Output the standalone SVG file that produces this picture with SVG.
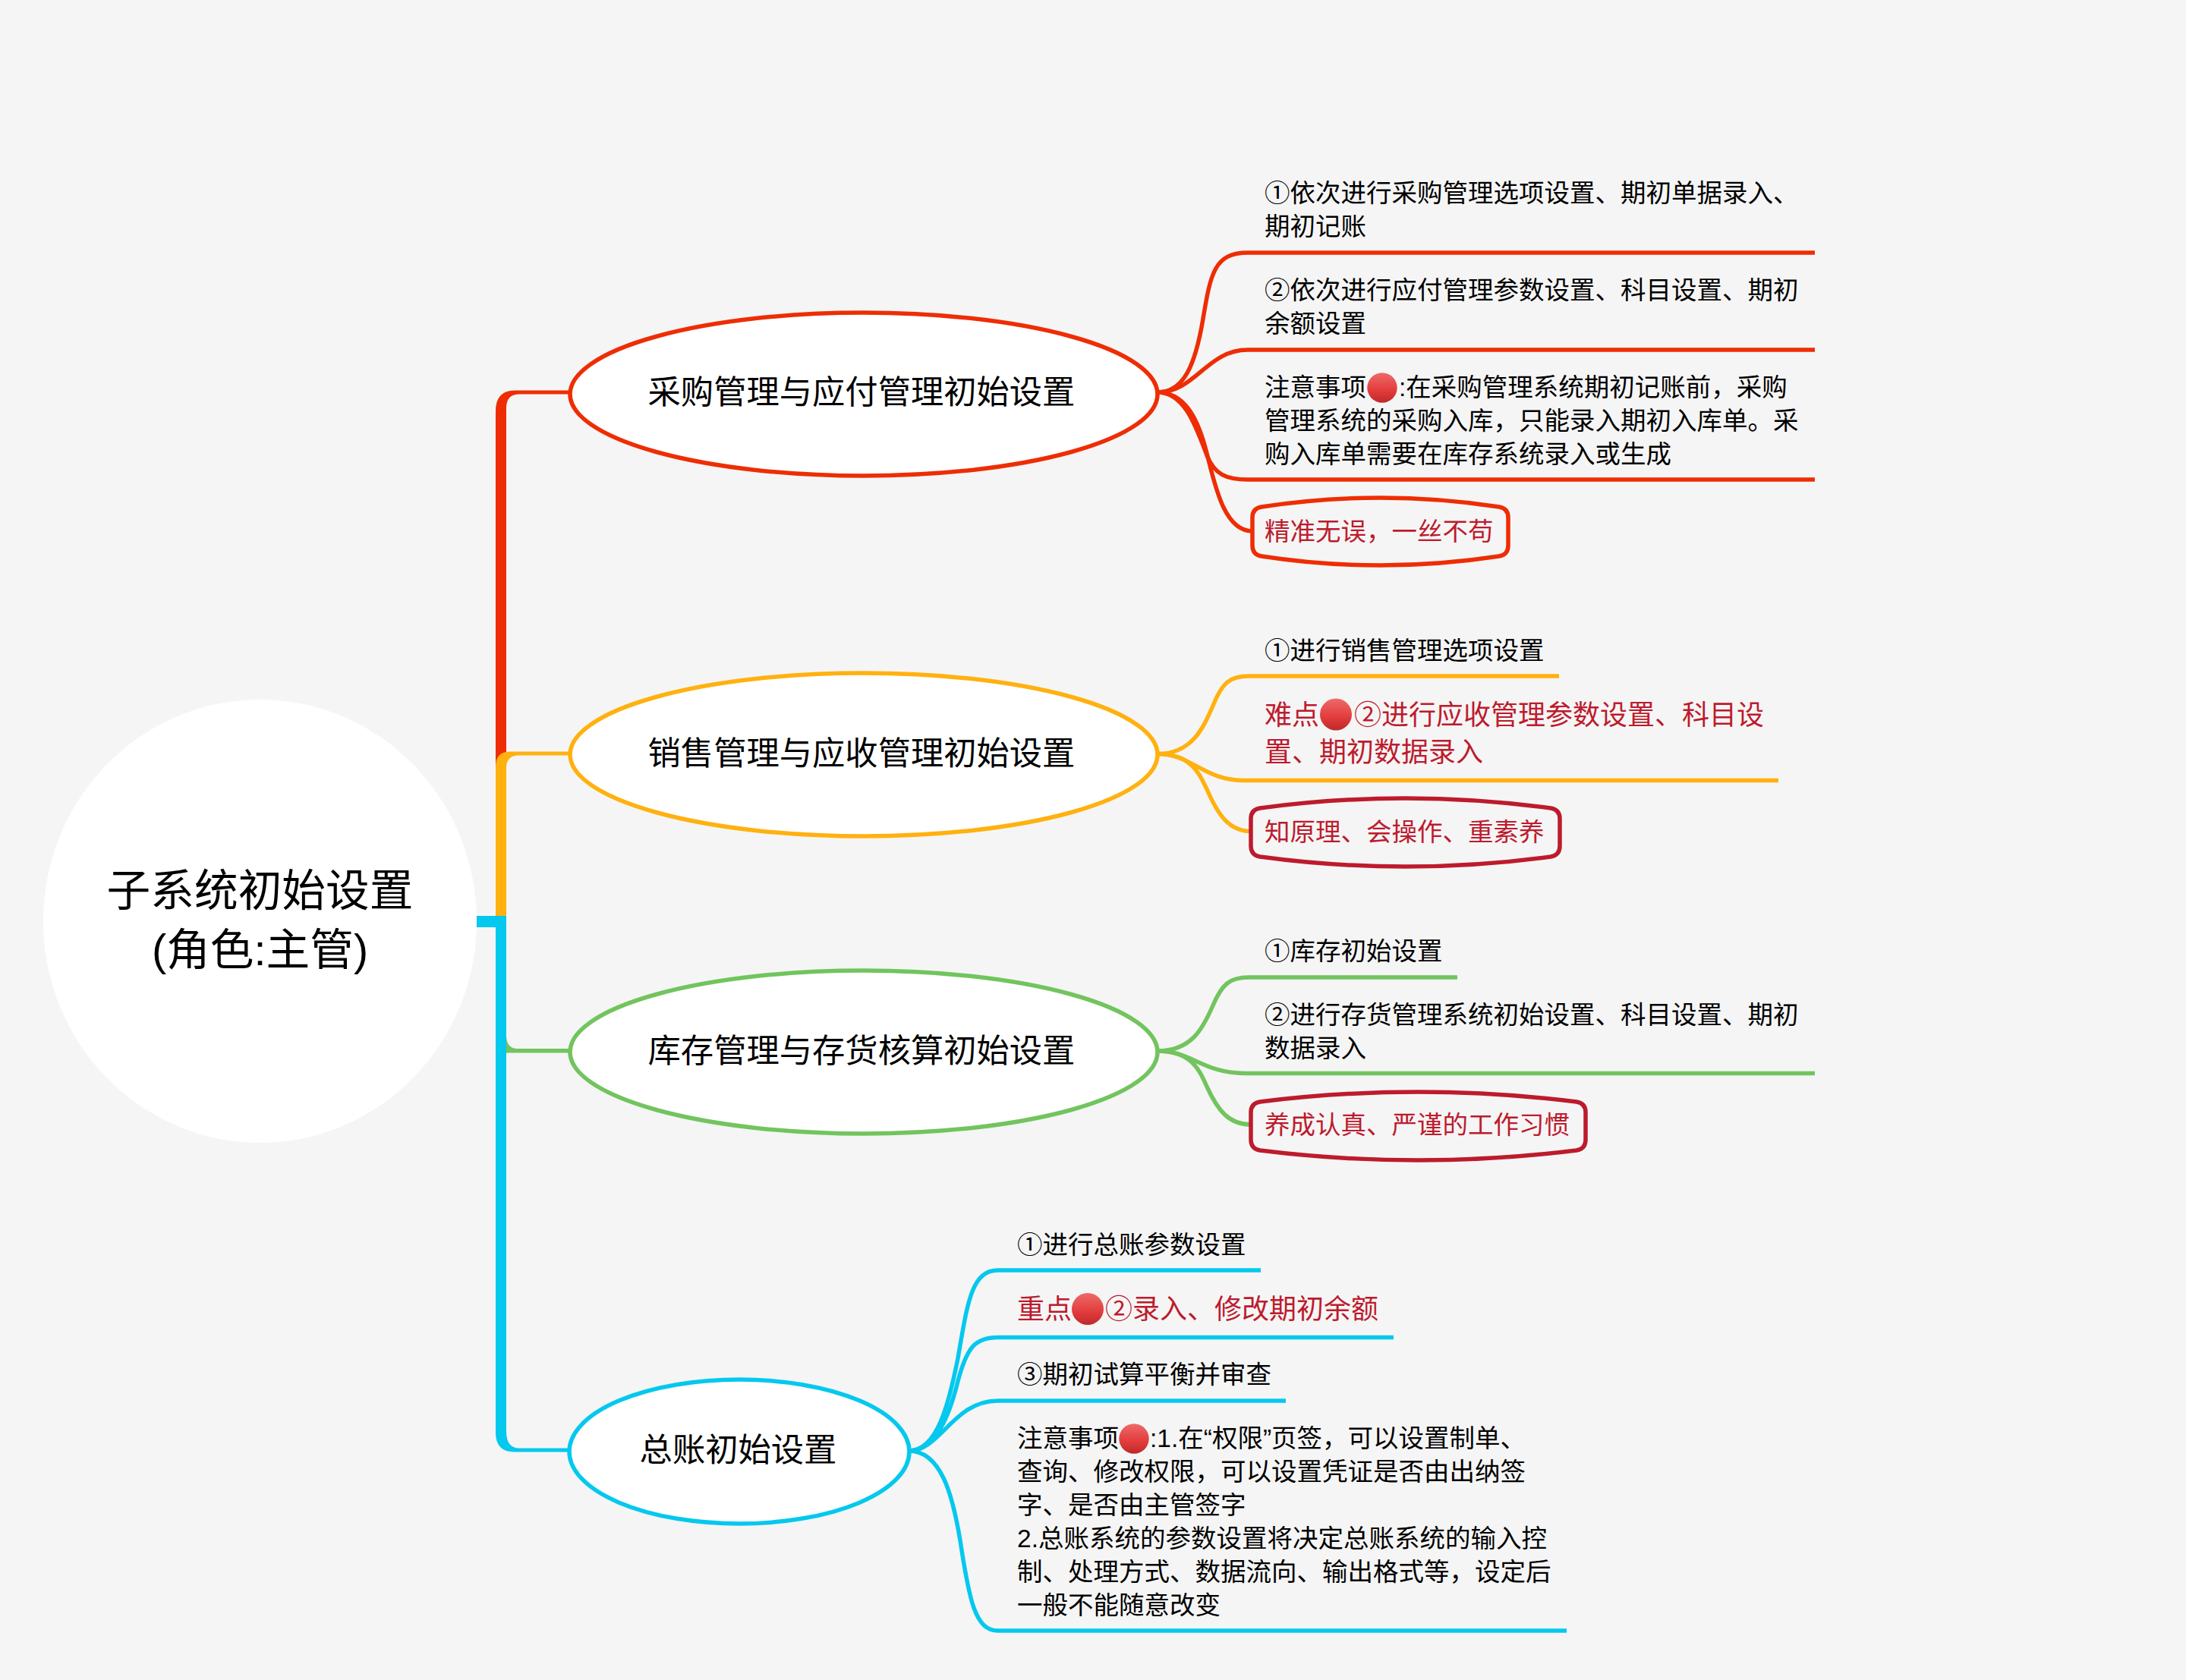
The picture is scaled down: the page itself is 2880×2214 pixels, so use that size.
<svg xmlns="http://www.w3.org/2000/svg" width="2880" height="2214" viewBox="0 0 2880 2214">
<defs>
<linearGradient id="dot" x1="0" y1="0" x2="0" y2="1"><stop offset="0" stop-color="#EE6A6A"/><stop offset="0.6" stop-color="#E23B3B"/><stop offset="1" stop-color="#BE2A2A"/></linearGradient>
</defs>
<style>
text{font-family:"Liberation Sans","Noto Sans CJK SC",sans-serif;fill:#000}
.c{font-size:57.7px;text-anchor:middle}
.m{font-size:43.3px;text-anchor:middle}
.t{font-size:33.5px}
.r{font-size:36px;fill:#BD1B2D}
.b{font-size:33.5px;fill:#BD1B2D}
.e{fill:#fff;stroke-width:5.5}
.box{fill:none;stroke-width:5.5}
.l{fill:none;stroke-width:5.5}
.dot{fill:url(#dot)}
.red{stroke:#EE2D04}.ora{stroke:#FFB110}.gre{stroke:#72C45E}.blu{stroke:#05C8EE}.dr{stroke:#BD1B2D}
</style>
<rect width="2880" height="2214" fill="#F5F5F5"/>
<g id="connectors">
<path fill="#EE2D04" d="M751,514.500H678Q653,514.500 653,542V1010H667V538Q667,519.500 684,519.500H751Z"/>
<path fill="#FFB110" d="M751,990.500H672Q653,990.500 653,1010V1207H667V1012Q667,995.500 684,995.500H751Z"/>
<path fill="#72C45E" d="M751,1382H682Q668,1382 667,1366V1387.500H751Z"/>
<path fill="#05C8EE" d="M628,1207H667V1886Q667,1908.500 684,1908.500H751V1913.500H678Q653,1913.500 653,1888V1222H628Z"/>
<g class="l red">
<path d="M1525,517C1560,517 1575,480 1585,420C1595,360 1600,333 1644,333H2391"/>
<path d="M1525,517C1575,517 1590,461 1644,461H2391"/>
<path d="M1525,517C1560,517 1575,560 1590,600C1600,625 1615,632 1644,632H2391"/>
<path d="M1525,517C1560,517 1577,550 1588,590C1599,630 1610,700 1650,700"/>
</g>
<g class="l ora">
<path d="M1525,993.500C1570,993.500 1585,960 1598,930C1610,900 1620,891 1645,891H2054"/>
<path d="M1525,993.500C1570,993.500 1585,1028.500 1640,1028.500H2343"/>
<path d="M1525,993.500C1570,993.500 1580,1020 1590,1040C1605,1075 1620,1095.500 1648,1095.500"/>
</g>
<g class="l gre">
<path d="M1525,1385C1570,1385 1585,1355 1598,1325C1610,1297 1620,1288 1645,1288H1920"/>
<path d="M1525,1385C1570,1385 1585,1414.500 1640,1414.500H2391"/>
<path d="M1525,1385C1570,1385 1580,1410 1590,1432C1605,1465 1620,1482 1648,1482"/>
</g>
<g class="l blu">
<path d="M1197,1912C1235,1912 1250,1850 1262,1790C1275,1715 1280,1674 1315,1674H1661"/>
<path d="M1197,1912C1230,1912 1250,1870 1262,1820C1274,1775 1285,1762.500 1315,1762.500H1836"/>
<path d="M1197,1912C1240,1912 1255,1846 1315,1846H1694"/>
<path d="M1197,1912C1240,1912 1255,1970 1265,2030C1277,2110 1285,2149 1315,2149H2064"/>
</g>
</g>
<g id="root"><ellipse cx="342.500" cy="1214" rx="285.500" ry="292" fill="#fff"/><text class="c" x="342.500" y="1194">子系统初始设置</text><text class="c" x="342.500" y="1272">(角色:主管)</text></g>
<g id="n1"><ellipse class="e red" cx="1138" cy="519.500" rx="387" ry="107.500"/><text class="m" x="1135" y="532">采购管理与应付管理初始设置</text></g>
<g id="n2"><ellipse class="e ora" cx="1138" cy="994.500" rx="387" ry="107.500"/><text class="m" x="1135" y="1008">销售管理与应收管理初始设置</text></g>
<g id="n3"><ellipse class="e gre" cx="1138" cy="1386.500" rx="387" ry="107.500"/><text class="m" x="1135" y="1399.500">库存管理与存货核算初始设置</text></g>
<g id="n4"><ellipse class="e blu" cx="974" cy="1913" rx="224" ry="95"/><text class="m" x="972.500" y="1926">总账初始设置</text></g>
<g id="n1a"><text class="t" x="1666" y="266">①依次进行采购管理选项设置、期初单据录入、</text><text class="t" x="1666" y="310">期初记账</text></g>
<g id="n1b"><text class="t" x="1666" y="394">②依次进行应付管理参数设置、科目设置、期初</text><text class="t" x="1666" y="438">余额设置</text></g>
<g id="n1c"><text class="t" x="1666" y="522">注意事项</text><circle class="dot" cx="1821" cy="511" r="19.700"/><text class="t" x="1843" y="522">:在采购管理系统期初记账前，采购</text><text class="t" x="1666" y="565.700">管理系统的采购入库，只能录入期初入库单。采</text><text class="t" x="1666" y="609.700">购入库单需要在库存系统录入或生成</text></g>
<g id="n1d"><path class="box red" d="M1662,668Q1818.500,644 1975,668Q1987,670 1987,682V719Q1987,731 1975,733Q1818.500,757 1662,733Q1650,731 1650,719V682Q1650,670 1662,668Z"/><text class="b" x="1666" y="711.500">精准无误，一丝不苟</text></g>
<g id="n2a"><text class="t" x="1666" y="869">①进行销售管理选项设置</text></g>
<g id="n2b"><text class="r" x="1666" y="954.500">难点</text><circle class="dot" cx="1760" cy="941.500" r="21"/><text class="r" x="1784" y="954.500">②进行应收管理参数设置、科目设</text><text class="r" x="1666" y="1003.500">置、期初数据录入</text></g>
<g id="n2c"><path class="box dr" d="M1660,1065Q1851.500,1039 2043,1065Q2055,1067 2055,1079V1115Q2055,1127 2043,1129Q1851.500,1155 1660,1129Q1648,1127 1648,1115V1079Q1648,1067 1660,1065Z"/><text class="b" x="1666" y="1108">知原理、会操作、重素养</text></g>
<g id="n3a"><text class="t" x="1666" y="1265">①库存初始设置</text></g>
<g id="n3b"><text class="t" x="1666" y="1349">②进行存货管理系统初始设置、科目设置、期初</text><text class="t" x="1666" y="1393">数据录入</text></g>
<g id="n3c"><path class="box dr" d="M1660,1452Q1868.500,1426 2077,1452Q2089,1454 2089,1466V1502Q2089,1514 2077,1516Q1868.500,1542 1660,1516Q1648,1514 1648,1502V1466Q1648,1454 1660,1452Z"/><text class="b" x="1666" y="1494">养成认真、严谨的工作习惯</text></g>
<g id="n4a"><text class="t" x="1340" y="1652">①进行总账参数设置</text></g>
<g id="n4b"><text class="r" x="1340" y="1738">重点</text><circle class="dot" cx="1433" cy="1725" r="21"/><text class="r" x="1456" y="1738">②录入、修改期初余额</text></g>
<g id="n4c"><text class="t" x="1340" y="1823">③期初试算平衡并审查</text></g>
<g id="n4d"><text class="t" x="1340" y="1907">注意事项</text><circle class="dot" cx="1494" cy="1896" r="19.700"/><text class="t" x="1515" y="1907">:1.在“权限”页签，可以设置制单、</text><text class="t" x="1340" y="1951">查询、修改权限，可以设置凭证是否由出纳签</text><text class="t" x="1340" y="1995">字、是否由主管签字</text><text class="t" x="1340" y="2039">2.总账系统的参数设置将决定总账系统的输入控</text><text class="t" x="1340" y="2083">制、处理方式、数据流向、输出格式等，设定后</text><text class="t" x="1340" y="2127">一般不能随意改变</text></g>
</svg>
